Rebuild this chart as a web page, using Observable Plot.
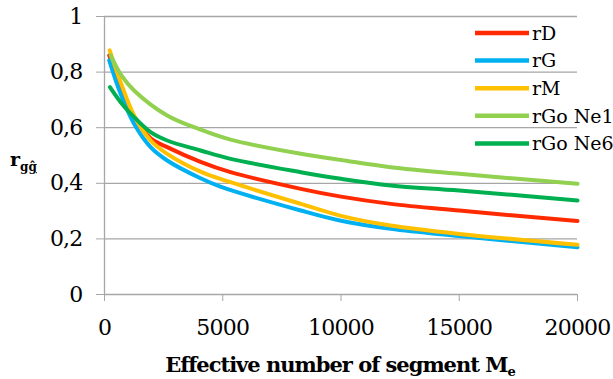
<!DOCTYPE html>
<html><head><meta charset="utf-8">
<script src="https://cdn.jsdelivr.net/npm/d3@7"></script>
<script src="https://cdn.jsdelivr.net/npm/@observablehq/plot@0.6"></script>
<style>
body{margin:0;background:#fff;}
#chart{position:relative;width:613px;height:379px;overflow:hidden;}
</style>
</head><body><div id="chart"></div>
<script>
const seriesNames = ["rD", "rG", "rM", "rGo Ne1", "rGo Ne6"];
const seriesColors = ["#FF2A00", "#00B0F0", "#FFC000", "#92D050", "#00B050"];

const rD_x = [200, 700, 1250, 1950, 2650, 4060, 5330, 8300, 10000, 12100, 15000, 20000];
const rD_y = [0.860, 0.745, 0.640, 0.562, 0.530, 0.477, 0.440, 0.380, 0.352, 0.326, 0.302, 0.264];
const rG_x = [200, 680, 1250, 1950, 2650, 4060, 4900, 8300, 10000, 12100, 15000, 20000];
const rG_y = [0.842, 0.722, 0.614, 0.530, 0.482, 0.418, 0.388, 0.302, 0.265, 0.236, 0.210, 0.170];
const rM_x = [220, 680, 1250, 1950, 2650, 4060, 5330, 8300, 10000, 12100, 15000, 20000];
const rM_y = [0.878, 0.764, 0.644, 0.554, 0.506, 0.442, 0.404, 0.326, 0.283, 0.248, 0.218, 0.179];
const rGoNe1_x = [260, 700, 1250, 2650, 4060, 5330, 8300, 10000, 12100, 15000, 20000];
const rGoNe1_y = [0.860, 0.790, 0.734, 0.644, 0.593, 0.557, 0.506, 0.484, 0.458, 0.434, 0.398];
const rGoNe6_x = [230, 700, 1250, 1950, 2650, 4060, 5330, 8300, 10000, 12100, 15000, 20000];
const rGoNe6_y = [0.746, 0.690, 0.638, 0.584, 0.554, 0.518, 0.488, 0.440, 0.416, 0.392, 0.374, 0.338];

const xTicks = [0, 5000, 10000, 15000, 20000];
const yTicks = [0, 0.2, 0.4, 0.6, 0.8, 1];
const xTitle = "Effective number of segment M";
const xTitleSub = "e";
const yTitle = "r";
const yTitleSub = "gĝ";

const seriesX = [rD_x, rG_x, rM_x, rGoNe1_x, rGoNe6_x];
const seriesY = [rD_y, rG_y, rM_y, rGoNe1_y, rGoNe6_y];
const data = [];
seriesNames.forEach((name, i) => {
  seriesX[i].forEach((x, j) => data.push({series: name, x, y: seriesY[i][j]}));
});

const gridColor = "#a6a6a6";
const font = "DejaVu Serif";

const plot = Plot.plot({
  width: 613, height: 379,
  marginLeft: 104, marginRight: 36, marginTop: 16, marginBottom: 85,
  style: "font-family: 'DejaVu Serif'; font-size: 22px; background: white; color: black;",
  x: {domain: [0, 20000]},
  y: {domain: [0, 1]},
  color: {domain: seriesNames, range: seriesColors},
  marks: [
    Plot.gridY(yTicks.filter(d => d > 0), {stroke: gridColor, strokeOpacity: 1, strokeWidth: 1.3}),
    Plot.ruleY([0], {stroke: gridColor, strokeWidth: 1.3}),
    Plot.ruleX([0], {stroke: gridColor, strokeWidth: 1.3}),
    Plot.axisY(yTicks, {tickSize: 8, tickPadding: 14, stroke: gridColor, fill: "black", strokeOpacity: 1,
      fontSize: 22,
      tickFormat: d => d3.format(".1f")(d).replace(".", ",").replace(/^0,0$/, "0").replace(/^1,0$/, "1"), label: null}),
    Plot.axisX(xTicks, {tickSize: 7, tickPadding: 18, stroke: gridColor, fill: "black", strokeOpacity: 1,
      fontSize: 22,
      tickFormat: d => String(d), label: null}),
    Plot.line(data, {x: "x", y: "y", z: "series", stroke: "series", strokeWidth: 4, curve: "catmull-rom"})
  ]
});
document.getElementById("chart").appendChild(plot);

const svg = d3.select(plot);
svg.selectAll("g[aria-label='x-axis tick label'] text, g[aria-label='y-axis tick label'] text")
  .attr("letter-spacing", -0.8);

// x axis title
const xt = svg.append("text")
  .attr("x", 340).attr("y", 372)
  .attr("text-anchor", "middle")
  .attr("font-family", font)
  .attr("font-size", 21).attr("font-weight", "bold")
  .attr("letter-spacing", -1)
  .attr("fill", "black");
xt.append("tspan").text(xTitle);
xt.append("tspan").attr("font-size", 13).attr("dy", 4).text(xTitleSub);

// y axis title
const yt = svg.append("text")
  .attr("x", 10).attr("y", 166)
  .attr("text-anchor", "start")
  .attr("font-family", font)
  .attr("font-size", 19).attr("font-weight", "bold")
  .attr("fill", "black");
yt.append("tspan").text(yTitle);
yt.append("tspan").attr("font-size", 12).attr("dy", 5).attr("text-decoration", "underline").text(yTitleSub);

// legend
const lg = svg.append("g");
seriesNames.forEach((name, i) => {
  const yy = 33 + i * 27.6;
  lg.append("line").attr("x1", 475).attr("x2", 529).attr("y1", yy).attr("y2", yy)
    .attr("stroke", seriesColors[i]).attr("stroke-width", 4.5);
  lg.append("text").attr("x", 532).attr("y", yy).attr("dy", "0.36em")
    .attr("text-anchor", "start")
    .attr("font-family", font)
    .attr("font-size", 19).attr("fill", "black").text(name);
});
</script></body></html>
